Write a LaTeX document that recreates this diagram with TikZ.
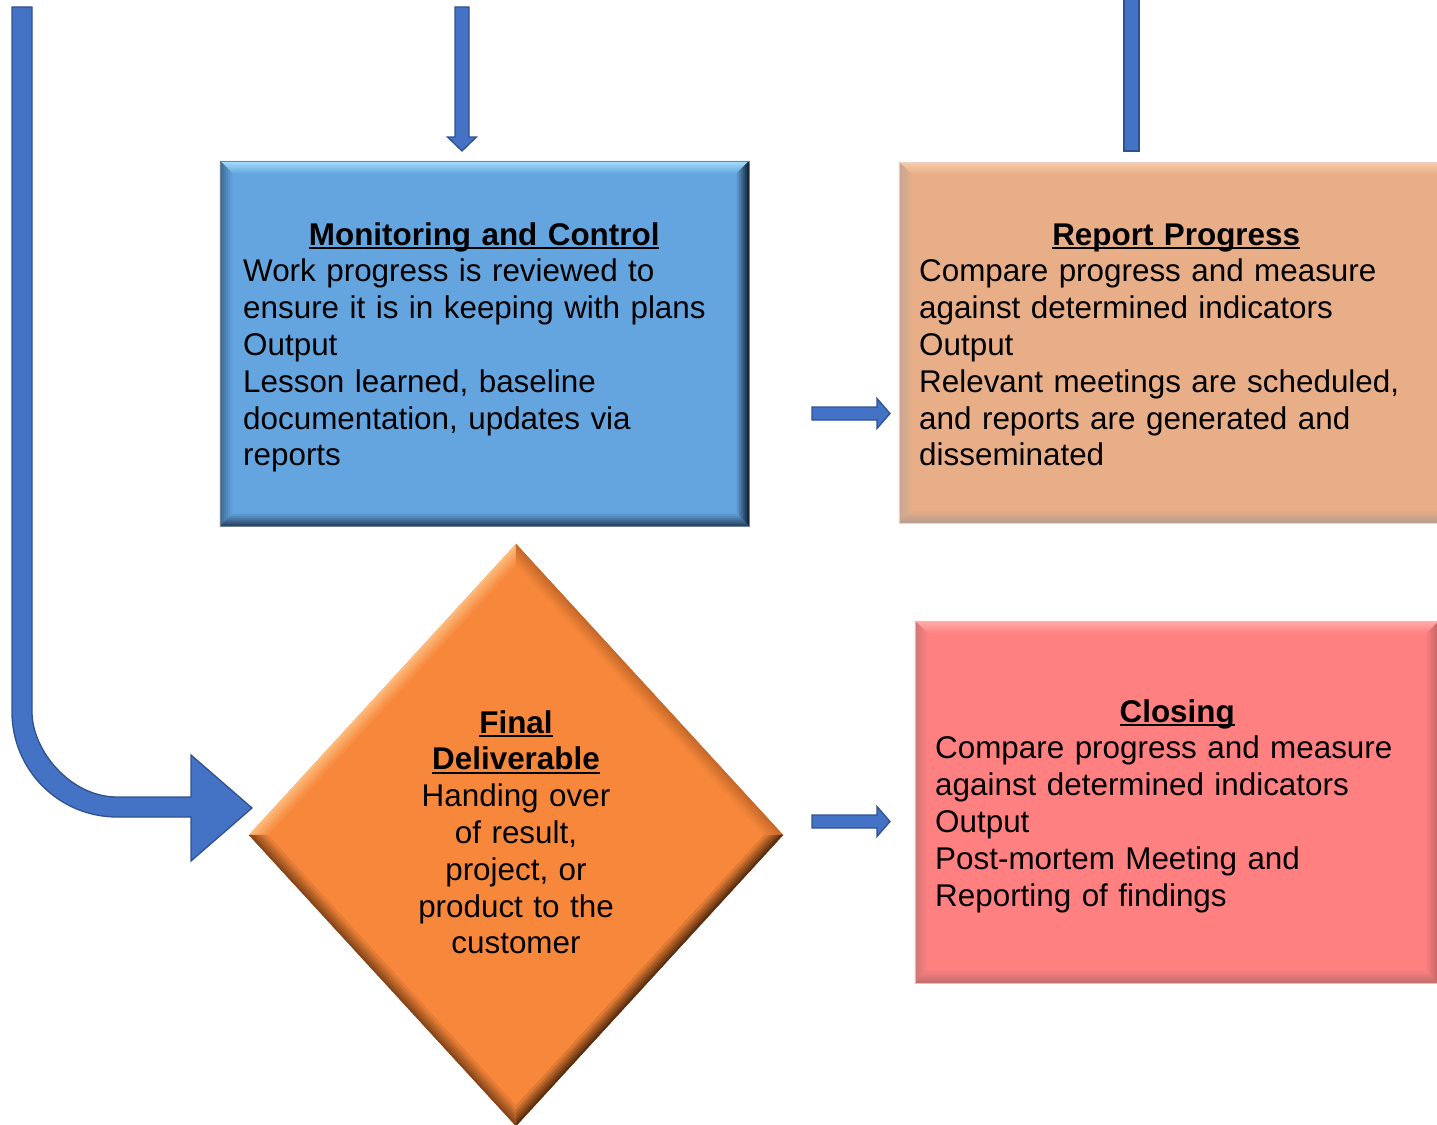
\documentclass[tikz,border=0pt]{standalone}
\usepackage{fontspec}
\setmainfont{Liberation Sans}
\usetikzlibrary{fit,calc}

% palettes: base, top, left, right, bottom, edge
\definecolor{monbase}{HTML}{64A5E0}
\definecolor{montop}{HTML}{A6DDFD}
\definecolor{monleft}{HTML}{3C6B98}
\definecolor{monright}{HTML}{15263A}
\definecolor{monbottom}{HTML}{2A4868}
\definecolor{monedge}{HTML}{6F8296}

\definecolor{repbase}{HTML}{E8AE88}
\definecolor{reptop}{HTML}{F6CBA6}
\definecolor{repleft}{HTML}{C7A594}
\definecolor{repright}{HTML}{B08468}
\definecolor{repbottom}{HTML}{BC9E90}
\definecolor{repedge}{HTML}{EBD3C8}

\definecolor{clobase}{HTML}{FF8080}
\definecolor{clotop}{HTML}{FFAAAA}
\definecolor{cloleft}{HTML}{D27878}
\definecolor{cloright}{HTML}{C06464}
\definecolor{clobottom}{HTML}{C27070}
\definecolor{cloedge}{HTML}{F2B4B4}

\definecolor{delbase}{HTML}{F7883B}
\definecolor{deltl}{HTML}{FDBA7C}
\definecolor{deltr}{HTML}{C7692A}
\definecolor{delbr}{HTML}{5A2E0E}
\definecolor{delbl}{HTML}{86461A}

\definecolor{arrowfill}{HTML}{4472C4}
\definecolor{arrowline}{HTML}{2F528F}

\tikzset{
  blockarrow/.style={fill=arrowfill, draw=arrowline, line width=1.3pt, line join=miter},
  bodytext/.style={inner sep=0pt, align=left, text=black,
    font=\fontsize{31.4}{36.8}\selectfont},
  ctrtext/.style={bodytext, align=center},
}

% bold underlined heading
\newsavebox\ttlbox
\newcommand\ttl[1]{\leavevmode\sbox\ttlbox{\bfseries #1}%
  \rlap{\rule[-4.2pt]{\wd\ttlbox}{2.2pt}}\usebox\ttlbox}

\newcommand\bevw{12}

% bevelled rectangle: name, x1, y1, x2, y2, palette
\newcommand\bevelbox[6]{%
  \fill[#6base] (#2,#3) rectangle (#4,#5);
  \foreach \i in {0,...,5}{%
    \pgfmathsetmacro\dA{\i*\bevw/6}%
    \pgfmathsetmacro\dB{(\i+1)*\bevw/6}%
    \pgfmathtruncatemacro\pc{100-\i*100/6}%
    \filldraw[fill=#6top!\pc!#6base, draw=#6top!\pc!#6base, line width=0.3pt]
      (#2+\dA,#3+\dA) -- (#4-\dA,#3+\dA) -- (#4-\dB,#3+\dB) -- (#2+\dB,#3+\dB) -- cycle;
    \filldraw[fill=#6left!\pc!#6base, draw=#6left!\pc!#6base, line width=0.3pt]
      (#2+\dA,#3+\dA) -- (#2+\dB,#3+\dB) -- (#2+\dB,#5-\dB) -- (#2+\dA,#5-\dA) -- cycle;
    \filldraw[fill=#6right!\pc!#6base, draw=#6right!\pc!#6base, line width=0.3pt]
      (#4-\dA,#3+\dA) -- (#4-\dB,#3+\dB) -- (#4-\dB,#5-\dB) -- (#4-\dA,#5-\dA) -- cycle;
    \filldraw[fill=#6bottom!\pc!#6base, draw=#6bottom!\pc!#6base, line width=0.3pt]
      (#2+\dA,#5-\dA) -- (#2+\dB,#5-\dB) -- (#4-\dB,#5-\dB) -- (#4-\dA,#5-\dA) -- cycle;
  }
  \node[fit={(#2,#3) (#4,#5)}, inner sep=0pt, draw=#6edge, line width=1pt] (#1) {};
}

% bevelled diamond: name, cx, cy, half width, half height, palette
\newcommand\bevelkite[6]{%
  \fill[#6base] (#2-#4,#3) -- (#2,#3-#5) -- (#2+#4,#3) -- (#2,#3+#5) -- cycle;
  \foreach \i in {0,...,5}{%
    \pgfmathsetmacro\tA{1-\i*0.07/6}%
    \pgfmathsetmacro\tB{1-(\i+1)*0.07/6}%
    \pgfmathtruncatemacro\pc{100-\i*100/6}%
    \filldraw[fill=#6tl!\pc!#6base, draw=#6tl!\pc!#6base, line width=0.3pt]
      (#2-#4*\tA,#3) -- (#2,#3-#5*\tA) -- (#2,#3-#5*\tB) -- (#2-#4*\tB,#3) -- cycle;
    \filldraw[fill=#6tr!\pc!#6base, draw=#6tr!\pc!#6base, line width=0.3pt]
      (#2,#3-#5*\tA) -- (#2+#4*\tA,#3) -- (#2+#4*\tB,#3) -- (#2,#3-#5*\tB) -- cycle;
    \filldraw[fill=#6br!\pc!#6base, draw=#6br!\pc!#6base, line width=0.3pt]
      (#2+#4*\tA,#3) -- (#2,#3+#5*\tA) -- (#2,#3+#5*\tB) -- (#2+#4*\tB,#3) -- cycle;
    \filldraw[fill=#6bl!\pc!#6base, draw=#6bl!\pc!#6base, line width=0.3pt]
      (#2,#3+#5*\tA) -- (#2-#4*\tA,#3) -- (#2-#4*\tB,#3) -- (#2,#3+#5*\tB) -- cycle;
  }
  \node[fit={(#2-#4,#3-#5) (#2+#4,#3+#5)}, inner sep=0pt] (#1) {};
}

% horizontal block arrow between two named points
\newcommand\harrow[2]{%
  \draw[blockarrow] ($(#1)+(0,-6.5)$) -- ($(#2)+(-13,-6.5)$) -- ($(#2)+(-13,-15)$)
    -- (#2) -- ($(#2)+(-13,15)$) -- ($(#2)+(-13,6.5)$) -- ($(#1)+(0,6.5)$) -- cycle;
}

\begin{document}
\begin{tikzpicture}[x=1pt, y=-1pt]
\useasboundingbox (0,0) rectangle (1437,1124);
\clip (0,0) rectangle (1437,1124);
\fill[white] (0,0) rectangle (1437,1124);

% process blocks
\bevelbox{mon}{220}{161}{749}{526}{mon}
\bevelbox{rep}{899}{162}{1453}{523}{rep}
\bevelbox{clo}{915}{621}{1439}{983}{clo}
\bevelkite{del}{516}{835}{267}{291}{del}

% block texts
\node[bodytext, text width=482pt, anchor=base west] (monT) at (243,245)
  {\makebox[\linewidth]{\ttl{Monitoring and Control}}\\
   Work progress is reviewed to\\
   ensure it is in keeping with plans\\
   Output\\
   Lesson learned, baseline\\
   documentation, updates via\\
   reports};
\node[bodytext, text width=514pt, anchor=base west] (repT) at (919,245)
  {\makebox[\linewidth]{\ttl{Report Progress}}\\
   Compare progress and measure\\
   against determined indicators\\
   Output\\
   Relevant meetings are scheduled,\\
   and reports are generated and\\
   disseminated};
\node[bodytext, text width=484pt, anchor=base west] (cloT) at (935,722)
  {\makebox[\linewidth]{\ttl{Closing}}\\
   Compare progress and measure\\
   against determined indicators\\
   Output\\
   Post-mortem Meeting and\\
   Reporting of findings};
\node[ctrtext, text width=260pt, anchor=base] (delT) at (516,733)
  {\ttl{Final}\\
   \ttl{Deliverable}\\
   Handing over\\
   of result,\\
   project, or\\
   product to the\\
   customer};

% connector end points
\coordinate (topIn) at (462,7);
\coordinate (topTip) at (462,151);
\coordinate (a1s) at (812,413.5);
\coordinate (a1e) at (890,413.5);
\coordinate (a2s) at (812,821.5);
\coordinate (a2e) at (890,821.5);
\coordinate (loopIn) at (22,7);
\coordinate (loopTip) at (252,808);

% incoming arrow above Monitoring and Control
\draw[blockarrow] ($(topIn)+(-7,0)$) -- ($(topTip)+(-7,-14)$) -- ($(topTip)+(-14.5,-14)$)
  -- (topTip) -- ($(topTip)+(14.5,-14)$) -- ($(topTip)+(7,-14)$) -- ($(topIn)+(7,0)$) -- cycle;

% bar entering Report Progress from above
\draw[blockarrow] (1124,-5) rectangle (1139,151);

% arrows into Report Progress and Closing
\harrow{a1s}{a1e}
\harrow{a2s}{a2e}

% curved arrow into Final Deliverable
\draw[blockarrow] ($(loopIn)+(-10,0)$) -- (12,712)
  .. controls (12,770) and (59,817) .. (117,817)
  -- (191,817) -- (191,861) -- (loopTip) -- (191,755) -- (191,797) -- (117,797)
  .. controls (70,797) and (32,750) .. (32,712)
  -- ($(loopIn)+(10,0)$) -- cycle;
\end{tikzpicture}
\end{document}
